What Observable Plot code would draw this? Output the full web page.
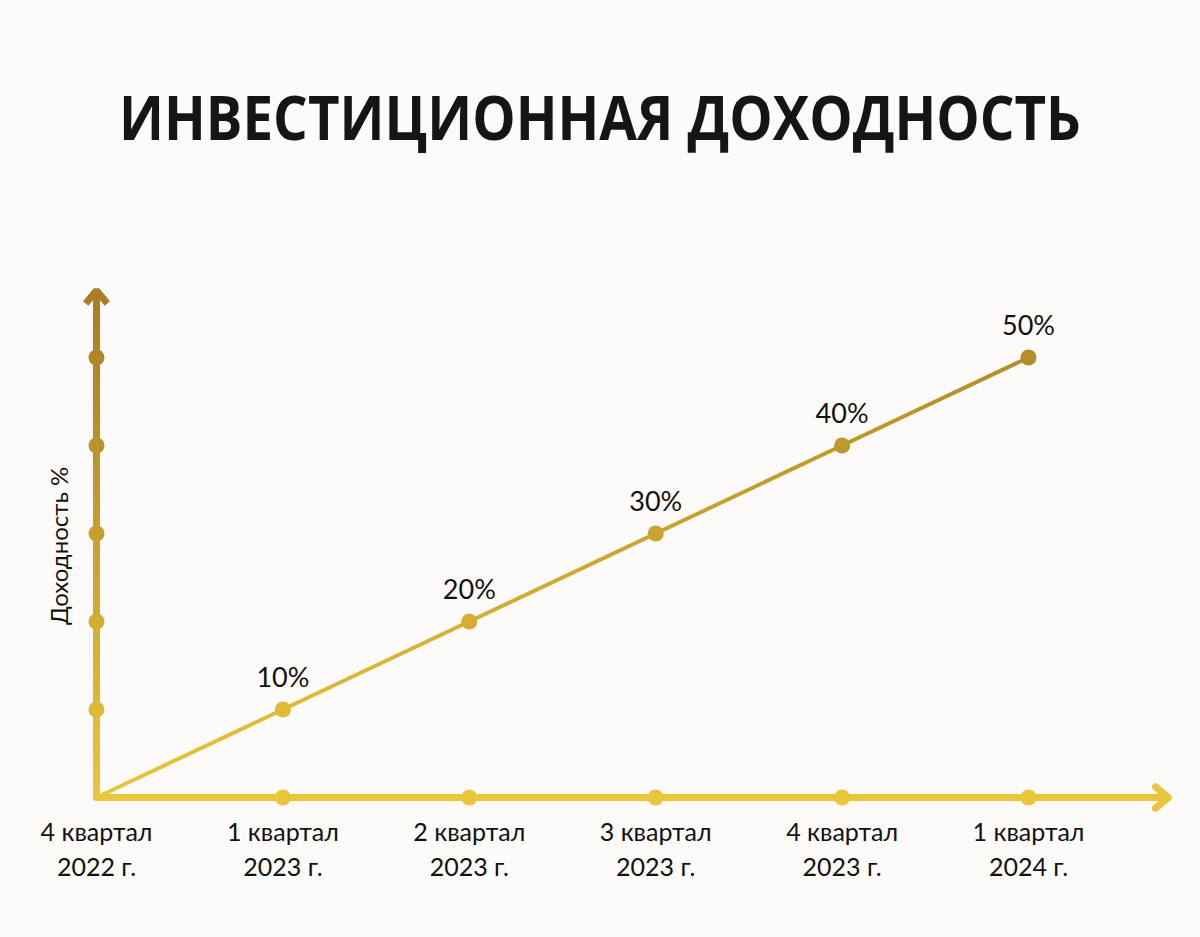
<!DOCTYPE html>
<html>
<head>
<meta charset="utf-8">
<script src="https://cdn.jsdelivr.net/npm/d3@7"></script>
<script src="https://cdn.jsdelivr.net/npm/@observablehq/plot@0.6"></script>
<style>
  html, body { margin: 0; padding: 0; background: #fdfbfa; }
  #title { position: relative; height: 190px; width: 1200px; }
  #title span {
    position: absolute; left: 0; width: 1200px; top: 86px; text-align: center;
    font-family: "Open Sans", sans-serif; font-weight: 700; font-size: 61px; line-height: 1;
    color: #151515; white-space: nowrap; display: block;
  }
  #chart svg { display: block; }
</style>
</head>
<body>
<div id="title"><span id="t">ИНВЕСТИЦИОННАЯ ДОХОДНОСТЬ</span></div>
<div id="chart"></div>
<script>
// ---- data ----
const quarters = ["4 квартал", "1 квартал", "2 квартал", "3 квартал", "4 квартал", "1 квартал"];
const years = ["2022 г.", "2023 г.", "2023 г.", "2023 г.", "2023 г.", "2024 г."];
const returns = [0, 10, 20, 30, 40, 50];
const yTicks = [10, 20, 30, 40, 50];
const yTitle = "Доходность %";
const titleText = "ИНВЕСТИЦИОННАЯ ДОХОДНОСТЬ";

const xArrowMax = 5.75;
const yArrowMax = 57.6;

const data = returns.map((v, i) => ({i, v, label: quarters[i] + "\n" + years[i]}));
const points = data.filter(d => d.v > 0);

const light = "#e9c63c";
const dark = "#a77d22";

const plot = Plot.plot({
  width: 1200,
  height: 747,
  margin: 0,
  x: {type: "linear", domain: [0, 5], range: [96, 1028]},
  y: {type: "linear", domain: [0, 50], range: [607, 167]},
  axis: null,
  style: {background: "transparent", fontFamily: "Lato, 'Open Sans', sans-serif", color: "#111"},
  marks: [
    // y axis with arrow
    Plot.arrow([0], {x1: 0, x2: 0, y1: 0, y2: yArrowMax, stroke: "url(#gY)", strokeWidth: 7, headLength: 3.6, headAngle: 80, strokeLinecap: "butt"}),
    // x axis with arrow
    Plot.arrow([0], {x1: 0, x2: xArrowMax, y1: 0, y2: 0, stroke: light, strokeWidth: 7, headLength: 3.6, headAngle: 80}),
    // axis dots
    Plot.dot(yTicks, {x: 0, y: d => d, r: 8, fill: "url(#gY)"}),
    Plot.dot(data.filter(d => d.i > 0), {x: "i", y: 0, r: 8, fill: light}),
    // data line
    Plot.line(data, {x: "i", y: "v", stroke: "url(#gL)", strokeWidth: 4}),
    Plot.dot(points, {x: "i", y: "v", r: 8, fill: "url(#gL)"}),
    // value labels
    Plot.text(points, {x: "i", y: "v", text: d => d.v + "%", dy: -31, fontSize: 27, fill: "#111"}),
    // category labels
    Plot.text(data, {x: "i", y: 0, text: "label", dy: 50, fontSize: 25, lineHeight: 1.38, fill: "#111"}),
    // y title
    Plot.text([yTitle], {x: 0, y: 28.6, text: d => d, rotate: -90, dx: -36, fontSize: 24, fill: "#111"})
  ]
});

const svg = d3.select(plot);
const xs = plot.scale("x"), ys = plot.scale("y");
const defs = svg.insert("defs", ":first-child");
const gY = defs.append("linearGradient").attr("id", "gY").attr("gradientUnits", "userSpaceOnUse")
  .attr("x1", 0).attr("x2", 0).attr("y1", ys.apply(0)).attr("y2", ys.apply(yArrowMax));
gY.append("stop").attr("offset", 0).attr("stop-color", light);
gY.append("stop").attr("offset", 1).attr("stop-color", dark);
const gL = defs.append("linearGradient").attr("id", "gL").attr("gradientUnits", "userSpaceOnUse")
  .attr("x1", xs.apply(0)).attr("x2", xs.apply(5)).attr("y1", 0).attr("y2", 0);
gL.append("stop").attr("offset", 0).attr("stop-color", light);
gL.append("stop").attr("offset", 1).attr("stop-color", "#b58d28");

document.getElementById("chart").appendChild(plot);

// fit the title to its width in the reference
const t = document.getElementById("t");
t.textContent = titleText;
const range = document.createRange();
range.selectNodeContents(t);
const w = range.getBoundingClientRect().width;
t.style.transform = `scaleX(${962 / w})`;
t.style.transformOrigin = "600px 50%";
</script>
</body>
</html>
